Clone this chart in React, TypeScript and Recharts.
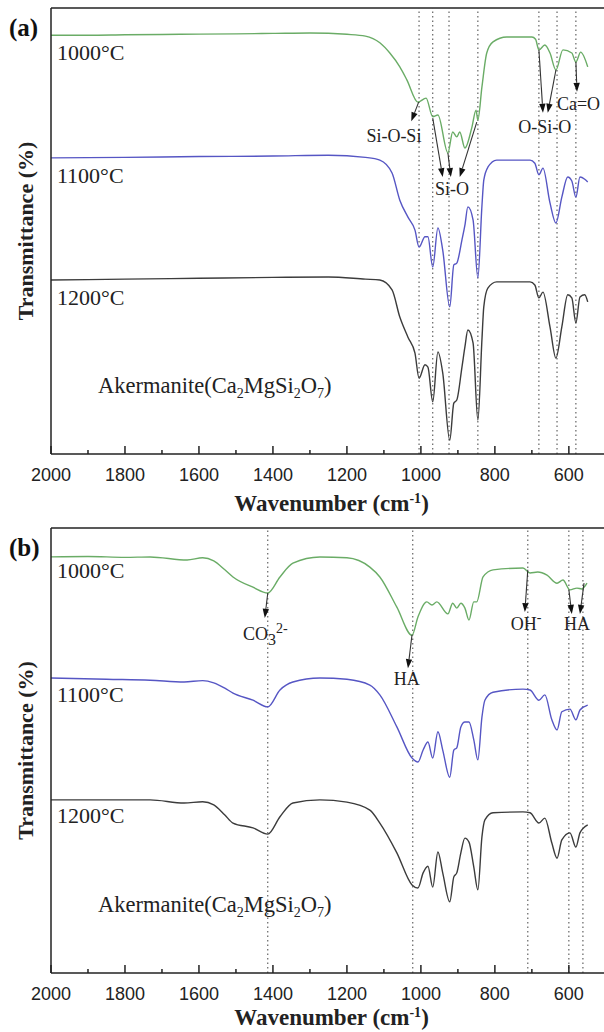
import React from 'react';
import {
  LineChart,
  Line,
  XAxis,
  YAxis,
  ReferenceLine,
  ReferenceDot,
} from 'recharts';

// wavenumber (cm-1), transmittance (a.u., offset per curve)
const a1000 = [
  [2000, 93.9], [1900, 93.9], [1800, 94.0], [1650, 94.1], [1500, 94.2], [1400, 94.3], [1300, 94.4],
  [1200, 94.1], [1150, 93.7], [1111, 92.2], [1084, 89.9], [1057, 86.8], [1038, 83.9], [1008, 78.9],
  [986, 79.8], [968, 75.6], [954, 76.0], [927, 67.5], [914, 72.2], [903, 71.1], [895, 72.2],
  [881, 68.6], [862, 73.3], [851, 77.1], [846, 74.9], [835, 82.3], [822, 89.9], [805, 92.4],
  [768, 93.5], [700, 93.5], [690, 93.0], [681, 90.6], [665, 91.7], [651, 89.9], [635, 86.1],
  [616, 90.6], [592, 89.9], [581, 87.9], [568, 90.1], [549, 86.8],
];
const a1100 = [
  [2000, 66.4], [1800, 66.5], [1600, 66.7], [1400, 66.8], [1250, 67.0], [1150, 66.5], [1111, 65.9],
  [1078, 63.0], [1057, 56.9], [1035, 53.1], [1016, 50.2], [1005, 46.4], [989, 48.7], [981, 48.7],
  [968, 41.9], [954, 50.7], [941, 45.7], [922, 33.0], [911, 42.4], [903, 42.8], [889, 48.0],
  [881, 51.3], [873, 55.4], [859, 52.5], [846, 39.5], [835, 55.6], [830, 61.4], [819, 64.3],
  [795, 65.9], [705, 65.9], [692, 65.2], [681, 62.6], [670, 64.1], [651, 56.3], [635, 51.8],
  [619, 57.6], [603, 62.1], [592, 61.2], [581, 57.6], [570, 62.1], [557, 61.6], [549, 61.0],
];
const a1200 = [
  [2000, 39.0], [1800, 39.2], [1600, 39.4], [1400, 39.6], [1250, 39.7], [1150, 39.2], [1111, 39.0],
  [1078, 36.8], [1057, 30.7], [1035, 26.2], [1016, 22.6], [1005, 17.0], [989, 20.0], [981, 19.5],
  [968, 11.7], [954, 22.9], [941, 18.2], [922, 3.1], [911, 11.4], [903, 12.1], [889, 19.5],
  [881, 24.0], [873, 27.8], [859, 24.9], [846, 7.6], [835, 25.6], [830, 33.0], [819, 37.2],
  [795, 38.6], [705, 38.6], [692, 37.9], [681, 35.0], [670, 36.3], [651, 28.5], [635, 21.5],
  [619, 28.5], [603, 35.7], [592, 35.0], [581, 29.4], [570, 35.2], [557, 35.7], [549, 34.1],
];

const b1000 = [
  [2000, 93.5], [1900, 93.6], [1800, 93.4], [1732, 93.5], [1632, 92.8], [1590, 93.3], [1560, 92.6],
  [1530, 90.6], [1508, 89.0], [1454, 86.7], [1414, 85.4], [1381, 89.0], [1346, 92.1], [1273, 93.5],
  [1200, 93.3], [1138, 91.2], [1111, 89.0], [1065, 82.2], [1024, 75.9], [1008, 80.0], [984, 83.4],
  [970, 82.7], [957, 83.4], [927, 80.7], [914, 83.1], [903, 82.0], [892, 83.1], [881, 82.0],
  [870, 79.3], [857, 83.4], [849, 83.4], [832, 89.0], [805, 90.6], [724, 91.0], [705, 89.9],
  [684, 90.1], [659, 89.4], [632, 87.6], [616, 88.3], [597, 86.1], [578, 86.5], [565, 86.3],
  [551, 87.6],
];
const b1100 = [
  [2000, 66.3], [1850, 66.0], [1732, 65.8], [1640, 65.4], [1590, 65.7], [1560, 65.2], [1530, 64.0],
  [1508, 62.9], [1454, 61.3], [1414, 59.8], [1381, 63.6], [1346, 65.4], [1273, 66.3], [1200, 66.0],
  [1138, 64.7], [1111, 62.5], [1065, 55.3], [1024, 48.3], [1008, 47.4], [994, 50.1], [981, 51.9],
  [968, 48.3], [954, 54.2], [941, 50.1], [922, 44.0], [911, 50.1], [903, 50.6], [892, 55.3],
  [881, 56.4], [870, 56.4], [857, 52.4], [846, 47.9], [835, 57.5], [827, 61.3], [805, 63.1],
  [724, 63.8], [705, 63.6], [681, 61.3], [665, 62.5], [646, 56.9], [632, 54.6], [619, 58.7],
  [597, 59.3], [581, 56.9], [570, 59.1], [549, 60.2],
];
const b1200 = [
  [2000, 38.9], [1850, 38.9], [1732, 38.9], [1640, 38.2], [1590, 38.5], [1560, 37.8], [1530, 35.5],
  [1508, 33.7], [1454, 32.6], [1414, 31.2], [1381, 35.1], [1346, 38.2], [1273, 38.9], [1200, 38.4],
  [1138, 36.6], [1111, 33.7], [1065, 27.0], [1024, 19.8], [1008, 19.1], [994, 22.5], [981, 24.0],
  [968, 19.3], [954, 27.2], [941, 22.5], [922, 16.0], [911, 21.6], [903, 22.5], [892, 27.0],
  [881, 30.3], [870, 29.4], [857, 23.8], [846, 18.7], [835, 30.6], [827, 34.4], [805, 36.0],
  [724, 36.2], [705, 36.0], [681, 33.7], [665, 34.8], [646, 29.2], [632, 25.8], [619, 29.9],
  [597, 31.5], [581, 28.3], [570, 31.5], [549, 33.3],
];

const aBands = [1005, 968, 924, 846, 681, 632, 581];
const bBands = [1414, 1022, 711, 600, 562];

const xTicks = [2000, 1900, 1800, 1700, 1600, 1500, 1400, 1300, 1200, 1100, 1000, 900, 800, 700, 600];

// annotation arrows: [from, to] in (wavenumber, transmittance)
const aArrows = [
  [[1006, 78.9], [1026, 74.6]],
  [[968, 75.3], [941, 62.1]],
  [[927, 67.5], [919, 62.1]],
  [[849, 74.4], [895, 62.1]],
  [[681, 90.6], [670, 76.5]],
  [[635, 86.1], [657, 76.5]],
  [[581, 87.9], [578, 81.2]],
];
const bArrows = [
  [[1414, 85.4], [1422, 79.8]],
  [[1024, 76.0], [1035, 68.5]],
  [[711, 90.6], [719, 81.1]],
  [[600, 86.1], [592, 80.7]],
  [[559, 87.6], [570, 80.7]],
];

const SERIF = '"Liberation Serif", "Times New Roman", serif';
const SANS = '"Liberation Sans", Arial, sans-serif';
const GREEN = '#6aac66';
const BLUE = '#5656c4';
const BLACK = '#3c3c3c';

const toRows = (pts: number[][]) => pts.map(([wn, t]) => ({ wn, t }));

const Tick = (props: any) => {
  const { x, y, payload } = props;
  const major = payload.value % 200 === 0;
  return (
    <g>
      <line x1={x} x2={x} y1={y} y2={y - (major ? 8 : 4)} stroke="#222" strokeWidth={1.5} />
      {major && (
        <text x={x} y={y + 27} textAnchor="middle" fontFamily={SANS} fontSize={18} fill="#222">
          {payload.value}
        </text>
      )}
    </g>
  );
};

const Arrow = (p: any) => {
  const { x1, y1, x2, y2 } = p;
  const ang = Math.atan2(y2 - y1, x2 - x1);
  const L = 9;
  const W = 3.2;
  const bx = x2 - L * Math.cos(ang);
  const by = y2 - L * Math.sin(ang);
  const px = -Math.sin(ang) * W;
  const py = Math.cos(ang) * W;
  return (
    <g>
      <line x1={x1} y1={y1} x2={bx} y2={by} stroke="#333" strokeWidth={1.1} />
      <polygon points={`${x2},${y2} ${bx + px},${by + py} ${bx - px},${by - py}`} fill="#111" />
    </g>
  );
};

const txt = (content: React.ReactNode, anchor: string, size = 22) => (p: any) => (
  <text x={p.cx} y={p.cy} textAnchor={anchor} fontFamily={SERIF} fontSize={size} fill="#222">
    {content}
  </text>
);

const akermanite = (
  <>
    Akermanite(Ca<tspan dy={5} fontSize={14}>2</tspan>
    <tspan dy={-5}>MgSi</tspan>
    <tspan dy={5} fontSize={14}>2</tspan>
    <tspan dy={-5}>O</tspan>
    <tspan dy={5} fontSize={14}>7</tspan>
    <tspan dy={-5}>)</tspan>
  </>
);

const aTexts: [number, number, React.ReactNode, string, number][] = [
  [1984, 88.3, '1000°C', 'start', 22],
  [1984, 60.8, '1100°C', 'start', 22],
  [1984, 33.4, '1200°C', 'start', 22],
  [1873, 13.7, akermanite, 'start', 22.5],
  [1073, 70.0, 'Si-O-Si', 'middle', 18],
  [916, 58.1, 'Si-O', 'middle', 18],
  [665, 72.0, 'O-Si-O', 'middle', 18],
  [574, 77.1, 'Ca=O', 'middle', 18],
];
const bTexts: [number, number, React.ReactNode, string, number][] = [
  [1984, 88.8, '1000°C', 'start', 22],
  [1984, 60.9, '1100°C', 'start', 22],
  [1984, 33.7, '1200°C', 'start', 22],
  [1873, 13.7, akermanite, 'start', 22.5],
  [
    1481, 74.8,
    <>CO<tspan dy={5} fontSize={16}>3</tspan><tspan dy={-12} fontSize={14}>2-</tspan></>,
    'start', 18,
  ],
  [1038, 64.7, 'HA', 'middle', 18],
  [757, 77.1, <>OH<tspan dy={-8} fontSize={14}>-</tspan></>, 'start', 18],
  [578, 77.1, 'HA', 'middle', 18],
];

type PanelProps = {
  tag: string;
  top: number;
  height: number;
  axisHeight: number;
  titleDy: number;
  series: number[][][];
  bands: number[];
  arrows: number[][][];
  texts: [number, number, React.ReactNode, string, number][];
};

function Panel({ tag, top, height, axisHeight, titleDy, series, bands, arrows, texts }: PanelProps) {
  const colors = [GREEN, BLUE, BLACK];
  return (
    <div style={{ position: 'absolute', left: 0, top }}>
      <LineChart width={604} height={height} margin={{ top: 8, right: 0, left: 0, bottom: 0 }}>
        <XAxis
          dataKey="wn"
          type="number"
          domain={[505, 2000]}
          reversed
          allowDataOverflow
          ticks={xTicks}
          interval={0}
          tick={<Tick />}
          tickLine={false}
          tickSize={0}
          tickMargin={0}
          height={axisHeight}
          axisLine={{ stroke: '#222', strokeWidth: 1.5 }}
          label={{
            content: (p: any) => (
              <text
                x={p.viewBox.x + p.viewBox.width / 2 + 4}
                y={p.viewBox.y + titleDy}
                textAnchor="middle"
                fontFamily={SERIF}
                fontWeight="bold"
                fontSize={23}
                fill="#222"
              >
                Wavenumber (cm<tspan dy={-8} fontSize={14}>-1</tspan><tspan dy={8}>)</tspan>
              </text>
            ),
          }}
        />
        <YAxis
          type="number"
          domain={[0, 100]}
          width={51}
          tick={false}
          tickLine={false}
          axisLine={{ stroke: '#222', strokeWidth: 1.5 }}
          label={{
            content: (p: any) => {
              const cy = p.viewBox.y + p.viewBox.height / 2;
              return (
                <g>
                  <text
                    x={33}
                    y={cy}
                    transform={`rotate(-90 33 ${cy})`}
                    textAnchor="middle"
                    fontFamily={SERIF}
                    fontWeight="bold"
                    fontSize={22}
                    fill="#222"
                  >
                    Transmittance (%)
                  </text>
                  <text x={9} y={36} fontFamily={SERIF} fontWeight="bold" fontSize={25} fill="#111">
                    {tag}
                  </text>
                </g>
              );
            },
          }}
        />
        <ReferenceLine y={100} stroke="#222" strokeWidth={1.5} />
        {bands.map((b) => (
          <ReferenceLine key={b} x={b} stroke="#555" strokeDasharray="1.5 3" strokeWidth={1.1} />
        ))}
        {series.map((s, i) => (
          <Line
            key={i}
            data={toRows(s)}
            dataKey="t"
            type="monotone"
            stroke={colors[i]}
            strokeWidth={1.4}
            dot={false}
            isAnimationActive={false}
          />
        ))}
        {arrows.map((a, i) => (
          <ReferenceLine
            key={'ar' + i}
            segment={[{ x: a[0][0], y: a[0][1] }, { x: a[1][0], y: a[1][1] }]}
            shape={Arrow}
          />
        ))}
        {texts.map((t, i) => (
          <ReferenceDot key={'t' + i} x={t[0]} y={t[1]} r={0} shape={txt(t[2], t[3], t[4])} />
        ))}
      </LineChart>
    </div>
  );
}

export default function App() {
  return (
    <div style={{ position: 'absolute', left: 0, top: 0, width: 604, height: 1032, background: '#fff', overflow: 'hidden' }}>
      <Panel
        tag="(a)"
        top={0}
        height={520}
        axisHeight={66}
        titleDy={57}
        series={[a1000, a1100, a1200]}
        bands={aBands}
        arrows={aArrows}
        texts={aTexts}
      />
      <Panel
        tag="(b)"
        top={520}
        height={512}
        axisHeight={59}
        titleDy={52}
        series={[b1000, b1100, b1200]}
        bands={bBands}
        arrows={bArrows}
        texts={bTexts}
      />
    </div>
  );
}
